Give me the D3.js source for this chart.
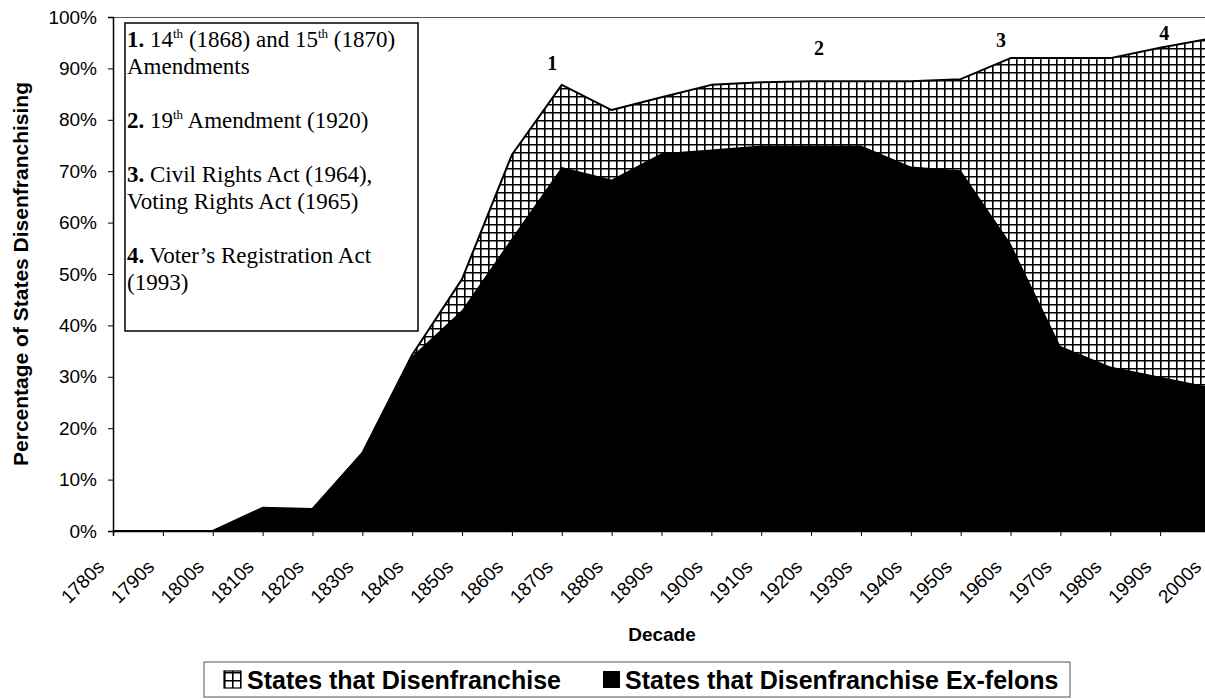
<!DOCTYPE html>
<html>
<head>
<meta charset="utf-8">
<script src="https://cdn.jsdelivr.net/npm/d3@7"></script>
<style>
  body { margin: 0; background: #fff; }
  svg { display: block; }
</style>
</head>
<body>
<div id="chart"></div>
<script>
// decades on the x axis
const decades = ["1780s","1790s","1800s","1810s","1820s","1830s","1840s","1850s","1860s","1870s",
  "1880s","1890s","1900s","1910s","1920s","1930s","1940s","1950s","1960s","1970s","1980s","1990s","2000s"];
// % of states that disenfranchise (any)
const allStates = [0,0,0,4.5,4.3,15.2,34.3,49,73.2,86.8,81.9,84.4,86.8,87.3,87.5,87.5,87.5,87.9,92,92,92,94,95.8];
// % of states that disenfranchise ex-felons
const exFelons = [0,0,0,4.5,4.3,15.2,34,43,57,70.8,68.4,73.5,74.2,75,75,75,70.9,70.2,56,36,32,30,28];
const yTicks = [0,10,20,30,40,50,60,70,80,90,100];
// numbered markers above the area (position in decade index, height in %)
const markers = [
  {label: "1", at: 8.81, pct: 89.7},
  {label: "2", at: 14.16, pct: 92.6},
  {label: "3", at: 17.81, pct: 94.2},
  {label: "4", at: 21.08, pct: 95.5}
];
// text box lines: [bold number, [text, isSuperscript]...]
const noteLines = [
  ["1.", [[" 14",0],["th",1],[" (1868) and 15",0],["th",1],[" (1870)",0]]],
  ["", [["Amendments",0]]],
  null,
  ["2.", [[" 19",0],["th",1],[" Amendment (1920)",0]]],
  null,
  ["3.", [[" Civil Rights Act (1964),",0]]],
  ["", [["Voting Rights Act (1965)",0]]],
  null,
  ["4.", [[" Voter\u2019s Registration Act",0]]],
  ["", [["(1993)",0]]]
];
const legendItems = ["States that Disenfranchise", "States that Disenfranchise Ex-felons"];

const W = 1205, H = 699;
const plot = {left: 113, top: 17, right: 1210, bottom: 531};

const svg = d3.select("#chart").append("svg")
  .attr("width", W).attr("height", H)
  .style("font-family", "'Liberation Sans', Arial, sans-serif");

const defs = svg.append("defs");
const pat = defs.append("pattern")
  .attr("id", "grid")
  .attr("patternUnits", "userSpaceOnUse")
  .attr("width", 8).attr("height", 8);
pat.append("rect").attr("width", 8).attr("height", 8).attr("fill", "#fff");
pat.append("path")
  .attr("d", "M0,0.8H8M0.8,0V8")
  .attr("stroke", "#000").attr("stroke-width", 1.6);

let x = d3.scalePoint().domain(decades).range([plot.left, plot.right]);
let xi = d3.scaleLinear().domain([0, decades.length - 1]).range([plot.left, plot.right]);
let y = d3.scaleLinear().domain([0, 100]).range([plot.bottom, plot.top]);

// plot area border (top)
svg.append("line")
  .attr("x1", plot.left).attr("x2", W)
  .attr("y1", plot.top + 0.5).attr("y2", plot.top + 0.5)
  .attr("stroke", "#555").attr("stroke-width", 1.2);

let area = d3.area()
  .x((d, i) => x(decades[i]))
  .y0(plot.bottom)
  .y1(d => y(d));

svg.append("path").datum(allStates)
  .attr("d", area)
  .attr("fill", "url(#grid)");

svg.append("path").datum(exFelons)
  .attr("d", area)
  .attr("fill", "#000");

svg.append("path").datum(allStates)
  .attr("d", d3.line().x((d, i) => x(decades[i])).y(d => y(d)))
  .attr("fill", "none")
  .attr("stroke", "#000")
  .attr("stroke-width", 2)
  .attr("stroke-linejoin", "round");

// y axis
let yAxis = svg.append("g")
  .attr("transform", `translate(${plot.left},0)`)
  .call(d3.axisLeft(y).tickValues(yTicks).tickSize(5).tickPadding(11).tickFormat(d => d + "%"));
yAxis.select(".domain").attr("stroke", "#000").attr("stroke-width", 1.5);
yAxis.selectAll("text").style("font-size", "19px").attr("fill", "#000")
  .style("font-family", "'Liberation Sans', Arial, sans-serif");

// x axis
let xAxis = svg.append("g")
  .attr("transform", `translate(0,${plot.bottom})`)
  .call(d3.axisBottom(x).tickSize(5));
xAxis.select(".domain").attr("stroke", "#000").attr("stroke-width", 1.5);
xAxis.selectAll("text")
  .style("font-size", "19px").attr("fill", "#000")
  .style("font-family", "'Liberation Sans', Arial, sans-serif")
  .attr("x", 0).attr("y", 0).attr("dy", 0)
  .attr("text-anchor", "end")
  .attr("transform", "translate(-8,37) rotate(-45)");

// axis titles
svg.append("text")
  .attr("transform", `translate(28,${(plot.top + plot.bottom) / 2}) rotate(-90)`)
  .attr("text-anchor", "middle")
  .style("font-size", "21px").style("font-weight", "bold")
  .text("Percentage of States Disenfranchising");

svg.append("text")
  .attr("x", 662).attr("y", 641)
  .attr("text-anchor", "middle")
  .style("font-size", "19px").style("font-weight", "bold")
  .text("Decade");

// numbered markers
svg.selectAll(".marker")
  .data(markers)
  .join("text")
  .attr("class", "marker")
  .attr("x", d => xi(d.at))
  .attr("y", d => y(d.pct))
  .attr("text-anchor", "middle")
  .style("font-family", "'Liberation Serif', 'Times New Roman', serif")
  .style("font-size", "20px").style("font-weight", "bold")
  .text(d => d.label);

// notes box
svg.append("rect")
  .attr("x", 125).attr("y", 23).attr("width", 293).attr("height", 308)
  .attr("fill", "#fff").attr("stroke", "#000").attr("stroke-width", 1.5);

let lineY = 47, lineH = 27;
let notes = svg.append("g")
  .style("font-family", "'Liberation Serif', 'Times New Roman', serif")
  .style("font-size", "23px");
noteLines.forEach((ln, i) => {
  if (ln) {
    let t = notes.append("text").attr("x", 127).attr("y", lineY + i * lineH);
    if (ln[0]) t.append("tspan").style("font-weight", "bold").text(ln[0]);
    let up = false;
    ln[1].forEach(seg => {
      let s = t.append("tspan").text(seg[0]);
      if (seg[1]) { s.style("font-size", "13px").attr("dy", -9); up = true; }
      else if (up) { s.attr("dy", 9); up = false; }
    });
  }
});

// legend
let lg = svg.append("g");
lg.append("rect")
  .attr("x", 204).attr("y", 662).attr("width", 866).attr("height", 35)
  .attr("fill", "#fff").attr("stroke", "#555").attr("stroke-width", 1);
lg.append("rect")
  .attr("x", 224).attr("y", 671).attr("width", 17).attr("height", 17)
  .attr("fill", "url(#grid)").attr("stroke", "#000").attr("stroke-width", 1.2);
lg.append("rect")
  .attr("x", 603).attr("y", 671).attr("width", 17).attr("height", 17)
  .attr("fill", "#000");
lg.selectAll(".lgtext")
  .data(legendItems)
  .join("text")
  .attr("class", "lgtext")
  .attr("x", (d, i) => i === 0 ? 247 : 625)
  .attr("y", 689)
  .style("font-size", "25px").style("font-weight", "bold")
  .text(d => d);
</script>
</body>
</html>
